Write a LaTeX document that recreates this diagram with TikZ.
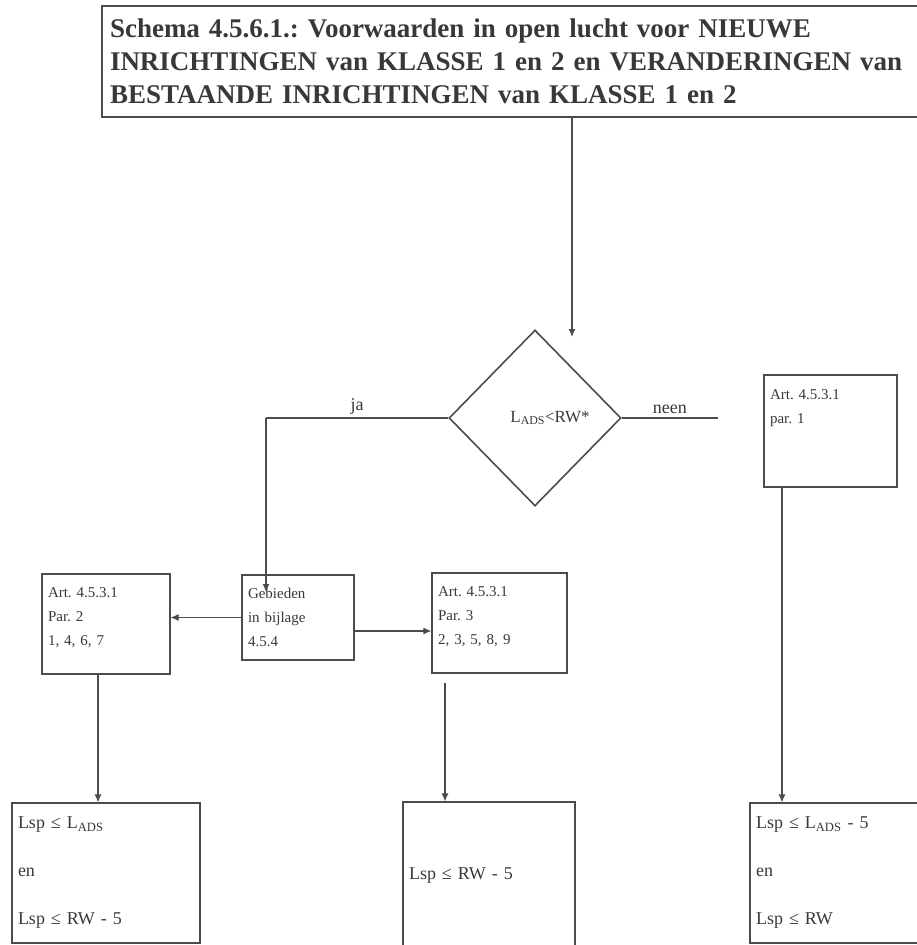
\documentclass[tikz,border=0pt]{standalone}
\usepackage{fontspec}
\setmainfont{Liberation Serif}
\usetikzlibrary{arrows.meta,positioning,shapes.geometric}
\definecolor{lijn}{gray}{0.3}
\definecolor{tekst}{gray}{0.22}
\frenchspacing
\tikzset{%
	kader/.style      = {draw=lijn, line width=1.2pt, rectangle, inner sep=6pt, text=tekst, align=left, font=\fontsize{15}{24}\selectfont},
	eis/.style        = {kader, font=\fontsize{18}{24}\selectfont}, % Eindvak
	titel/.style      = {kader, inner sep=8pt, font=\bfseries\fontsize{27}{33}\selectfont}, % Titel
	beslissing/.style = {draw=lijn, line width=1.6pt, diamond, inner sep=0pt, text=tekst, font=\fontsize{17}{20}\selectfont},
	etiket/.style     = {text=tekst, font=\fontsize{18}{20}\selectfont},
	lijntje/.style    = {draw=lijn, line width=1.1pt},
	pijl/.style       = {lijntje, -{Latex[length=8pt,width=7pt]}},
}
\begin{document}
\begin{tikzpicture}[x=1pt, y=-1pt]
	\useasboundingbox (0,0) rectangle (917,945);
	\clip (0,0) rectangle (917,945);
	\node[titel, minimum width=838pt, minimum height=111pt, text width=822pt] (titel) at (521,61.5)
		{Schema 4.5.6.1.: Voorwaarden in open lucht voor NIEUWE\\
		INRICHTINGEN van KLASSE 1 en 2 en VERANDERINGEN van\\
		BESTAANDE INRICHTINGEN van KLASSE 1 en 2};
	\node[beslissing, minimum width=172pt, minimum height=176pt] (toets) at (535,418) {\hspace*{30pt}L\textsubscript{ADS}<RW*};
	\node[kader, minimum width=133pt, minimum height=112pt, text width=121pt] (art1) at (830.5,431)
		{Art. 4.5.3.1\\ par. 1\\[24pt]\mbox{}};
	\node[kader, minimum width=112pt, minimum height=85pt, text width=100pt] (gebied) at (298,617.5)
		{Gebieden\\ in bijlage\\ 4.5.4};
	\node[kader, minimum width=128pt, minimum height=100pt, text width=116pt] (art2) at (106,624)
		{Art. 4.5.3.1\\ Par. 2\\ 1, 4, 6, 7\\[-10pt]\mbox{}};
	\node[kader, minimum width=135pt, minimum height=100pt, text width=123pt] (art3) at (499.5,623)
		{Art. 4.5.3.1\\ Par. 3\\ 2, 3, 5, 8, 9\\[-10pt]\mbox{}};
	\node[eis, minimum width=188pt, minimum height=140pt, text width=176pt] (eis2) at (106,873)
		{Lsp ≤ L\textsubscript{ADS}\\[24pt] en\\[24pt] Lsp ≤ RW - 5};
	\node[eis, minimum width=172pt, minimum height=148pt, text width=160pt] (eis3) at (489,876)
		{Lsp ≤ RW - 5};
	\node[eis, minimum width=175pt, minimum height=140pt, text width=163pt] (eis1) at (837.5,873)
		{Lsp ≤ L\textsubscript{ADS} - 5\\[24pt] en\\[24pt] Lsp ≤ RW};

	\coordinate (inval) at (572,337);
	\coordinate (jahoek) at (266,418);
	\coordinate (jaeind) at (266,592);
	\coordinate (neeneind) at (718,418);
	\coordinate (art3uit) at (445,683);

	\draw[pijl] (inval |- titel.south) -- (inval);
	\draw[lijntje] (toets.west) -- node[etiket, above] {ja} (jahoek);
	\draw[pijl] (jahoek) -- (jaeind);
	\draw[lijntje] (toets.east) -- node[etiket, above] {neen} (neeneind);
	\draw[pijl] (gebied.west) -- (gebied.west -| art2.east);
	\draw[pijl] ([yshift=-13.5pt]gebied.east) -- ([yshift=-13.5pt]gebied.east -| art3.west);
	\draw[pijl] ([xshift=-8pt]art2.south) -- ([xshift=-8pt]art2.south |- eis2.north);
	\draw[pijl] (art3uit) -- (art3uit |- eis3.north);
	\draw[pijl] ([xshift=-48.5pt]art1.south) -- ([xshift=-48.5pt]art1.south |- eis1.north);
\end{tikzpicture}
\end{document}
